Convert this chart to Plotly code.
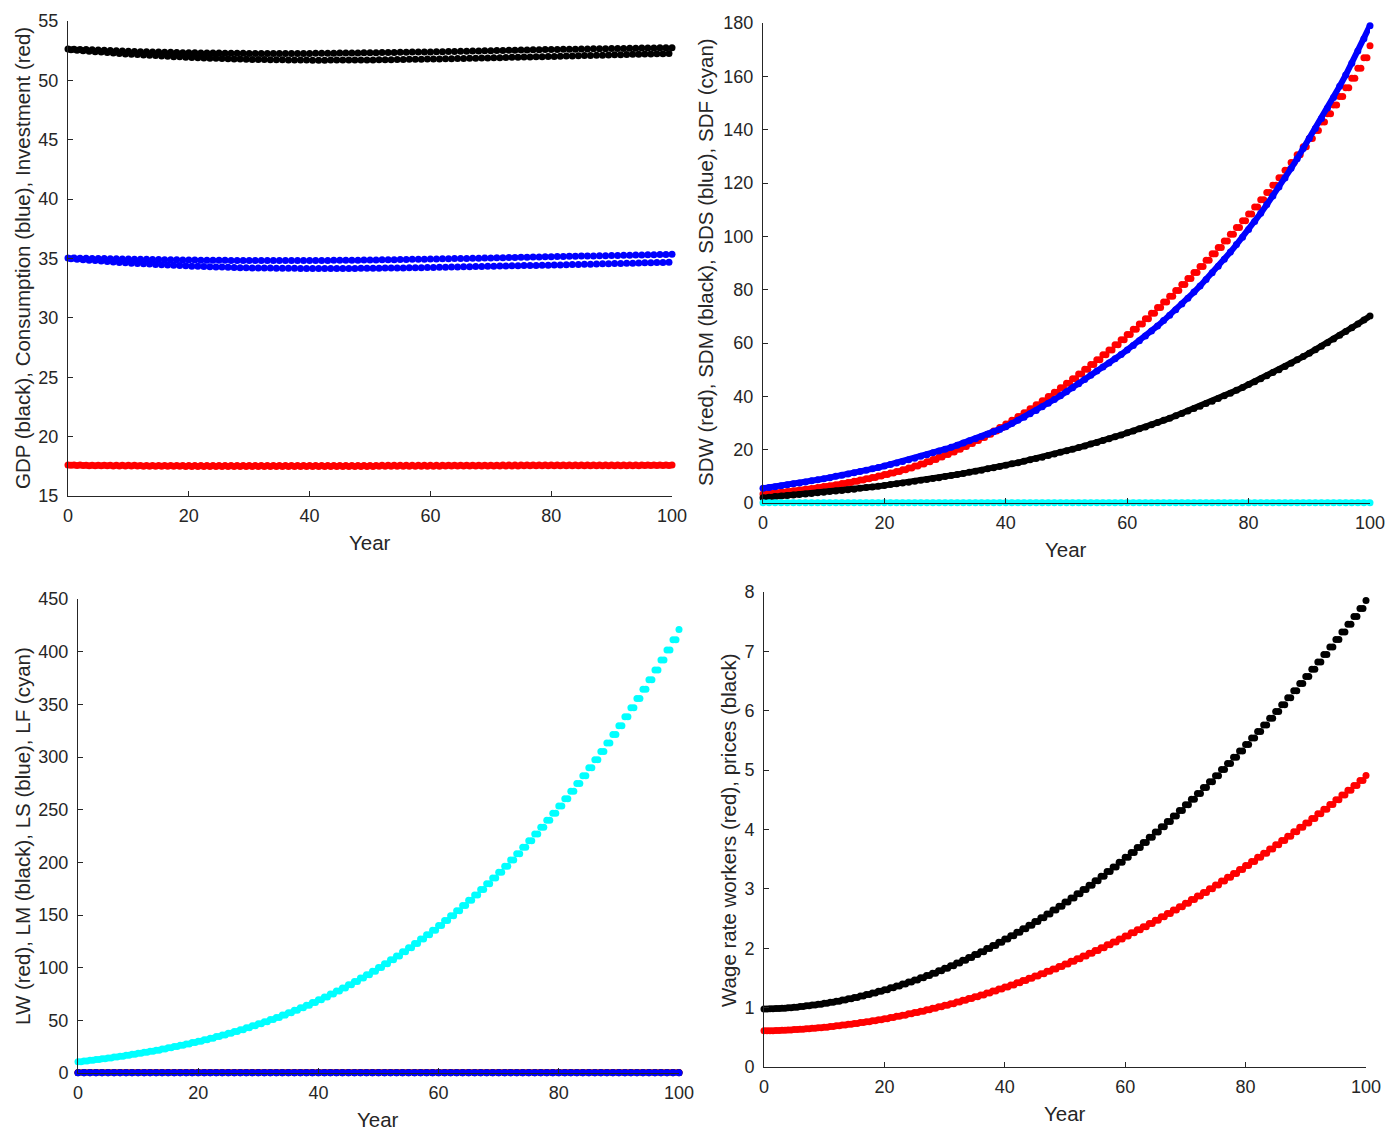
import plotly.graph_objects as go

W, H = 1391, 1131

# ---------------- data ----------------
years = list(range(0, 101))                 # annual observations
half_years = [y + 0.5 for y in range(0, 100)]  # mid-year observations

# Panel 1: GDP (black), Consumption (blue), Investment (red)
gdp_year = [52.65, 52.63, 52.61, 52.59, 52.57, 52.55, 52.53, 52.51, 52.49, 52.47,
            52.45, 52.44, 52.42, 52.41, 52.40, 52.39, 52.37, 52.36, 52.35, 52.33,
            52.32, 52.32, 52.31, 52.31, 52.30, 52.30, 52.29, 52.29, 52.28, 52.28,
            52.27, 52.27, 52.27, 52.27, 52.27, 52.27, 52.27, 52.27, 52.27, 52.27,
            52.27, 52.28, 52.28, 52.29, 52.29, 52.30, 52.30, 52.31, 52.31, 52.32,
            52.32, 52.33, 52.34, 52.34, 52.35, 52.36, 52.37, 52.38, 52.38, 52.39,
            52.40, 52.41, 52.42, 52.43, 52.44, 52.45, 52.46, 52.47, 52.48, 52.49,
            52.50, 52.51, 52.52, 52.53, 52.54, 52.55, 52.56, 52.57, 52.58, 52.59,
            52.60, 52.61, 52.62, 52.62, 52.63, 52.64, 52.65, 52.66, 52.66, 52.67,
            52.68, 52.69, 52.69, 52.70, 52.71, 52.72, 52.72, 52.73, 52.74, 52.74,
            52.75]
gdp_mid = [52.58, 52.54, 52.50, 52.46, 52.42, 52.38, 52.34, 52.30, 52.26, 52.23,
           52.20, 52.17, 52.14, 52.12, 52.09, 52.06, 52.03, 52.00, 51.98, 51.95,
           51.92, 51.90, 51.89, 51.87, 51.86, 51.84, 51.82, 51.81, 51.79, 51.78,
           51.76, 51.75, 51.75, 51.74, 51.74, 51.73, 51.72, 51.72, 51.71, 51.71,
           51.70, 51.70, 51.70, 51.71, 51.71, 51.71, 51.71, 51.71, 51.72, 51.72,
           51.72, 51.73, 51.74, 51.74, 51.75, 51.76, 51.77, 51.78, 51.78, 51.79,
           51.80, 51.81, 51.82, 51.83, 51.84, 51.85, 51.86, 51.87, 51.88, 51.89,
           51.90, 51.91, 51.92, 51.94, 51.95, 51.96, 51.97, 51.98, 52.00, 52.01,
           52.02, 52.03, 52.05, 52.06, 52.07, 52.09, 52.10, 52.11, 52.12, 52.14,
           52.15, 52.16, 52.18, 52.19, 52.20, 52.22, 52.23, 52.24, 52.25, 52.27]
cons_year = [35.05, 35.04, 35.03, 35.02, 35.01, 35.00, 34.99, 34.98, 34.97, 34.96,
             34.95, 34.94, 34.93, 34.93, 34.92, 34.91, 34.90, 34.89, 34.89, 34.88,
             34.87, 34.87, 34.86, 34.86, 34.85, 34.85, 34.85, 34.84, 34.84, 34.83,
             34.83, 34.83, 34.83, 34.83, 34.83, 34.83, 34.83, 34.83, 34.83, 34.83,
             34.83, 34.83, 34.84, 34.84, 34.85, 34.85, 34.85, 34.86, 34.86, 34.87,
             34.87, 34.88, 34.89, 34.89, 34.90, 34.91, 34.92, 34.93, 34.93, 34.94,
             34.95, 34.96, 34.97, 34.98, 34.99, 35.00, 35.01, 35.02, 35.03, 35.04,
             35.05, 35.06, 35.07, 35.08, 35.09, 35.10, 35.11, 35.12, 35.13, 35.14,
             35.15, 35.16, 35.17, 35.18, 35.19, 35.20, 35.21, 35.22, 35.23, 35.24,
             35.25, 35.26, 35.27, 35.28, 35.29, 35.30, 35.31, 35.32, 35.33, 35.34,
             35.35]
cons_mid = [34.98, 34.94, 34.90, 34.86, 34.83, 34.79, 34.75, 34.71, 34.67, 34.64,
            34.60, 34.58, 34.55, 34.53, 34.50, 34.48, 34.45, 34.43, 34.40, 34.38,
            34.35, 34.34, 34.32, 34.31, 34.29, 34.28, 34.26, 34.25, 34.23, 34.22,
            34.20, 34.20, 34.19, 34.19, 34.18, 34.18, 34.17, 34.17, 34.16, 34.16,
            34.15, 34.15, 34.15, 34.16, 34.16, 34.16, 34.16, 34.16, 34.17, 34.17,
            34.17, 34.18, 34.19, 34.19, 34.20, 34.21, 34.22, 34.23, 34.23, 34.24,
            34.25, 34.26, 34.27, 34.28, 34.29, 34.30, 34.31, 34.32, 34.33, 34.34,
            34.35, 34.36, 34.37, 34.38, 34.39, 34.40, 34.41, 34.42, 34.43, 34.44,
            34.45, 34.46, 34.47, 34.49, 34.50, 34.51, 34.52, 34.53, 34.55, 34.56,
            34.57, 34.58, 34.60, 34.61, 34.62, 34.64, 34.65, 34.66, 34.67, 34.69]
inv_year = [17.60, 17.60, 17.60, 17.59, 17.59, 17.59, 17.59, 17.58, 17.58, 17.58,
            17.58, 17.58, 17.57, 17.57, 17.57, 17.57, 17.57, 17.57, 17.56, 17.56,
            17.56, 17.56, 17.56, 17.56, 17.56, 17.56, 17.56, 17.56, 17.56, 17.56,
            17.56, 17.56, 17.56, 17.56, 17.56, 17.56, 17.56, 17.56, 17.56, 17.56,
            17.56, 17.56, 17.56, 17.56, 17.57, 17.57, 17.57, 17.57, 17.57, 17.57,
            17.57, 17.57, 17.58, 17.58, 17.58, 17.58, 17.58, 17.58, 17.58, 17.58,
            17.59, 17.59, 17.59, 17.59, 17.59, 17.59, 17.59, 17.59, 17.59, 17.59,
            17.59, 17.59, 17.60, 17.60, 17.60, 17.60, 17.60, 17.60, 17.60, 17.60,
            17.61, 17.61, 17.61, 17.61, 17.61, 17.61, 17.61, 17.61, 17.61, 17.61,
            17.61, 17.61, 17.61, 17.62, 17.62, 17.62, 17.62, 17.62, 17.62, 17.62,
            17.62]
inv_mid = [17.58, 17.57, 17.56, 17.55, 17.55, 17.54, 17.54, 17.53, 17.53, 17.52,
           17.52, 17.52, 17.51, 17.51, 17.51, 17.50, 17.50, 17.50, 17.50, 17.49,
           17.49, 17.49, 17.49, 17.49, 17.49, 17.49, 17.49, 17.49, 17.49, 17.49,
           17.49, 17.49, 17.48, 17.48, 17.48, 17.48, 17.48, 17.48, 17.48, 17.48,
           17.48, 17.48, 17.48, 17.48, 17.49, 17.49, 17.49, 17.49, 17.49, 17.49,
           17.49, 17.50, 17.50, 17.50, 17.50, 17.50, 17.50, 17.51, 17.51, 17.51,
           17.51, 17.51, 17.52, 17.52, 17.52, 17.52, 17.52, 17.52, 17.53, 17.53,
           17.53, 17.53, 17.53, 17.53, 17.53, 17.54, 17.54, 17.54, 17.54, 17.54,
           17.54, 17.54, 17.54, 17.54, 17.55, 17.55, 17.55, 17.55, 17.55, 17.55,
           17.55, 17.55, 17.55, 17.55, 17.55, 17.56, 17.56, 17.56, 17.56, 17.56]

# Panel 2: SDW (red), SDM (black), SDS (blue), SDF (cyan)
sdw = [3.40, 3.61, 3.83, 4.07, 4.32, 4.59, 4.87, 5.17, 5.48, 5.81,
       6.15, 6.51, 6.89, 7.29, 7.71, 8.15, 8.61, 9.09, 9.59, 10.11,
       10.65, 11.22, 11.83, 12.48, 13.17, 13.90, 14.67, 15.48, 16.33, 17.22,
       18.15, 19.12, 20.13, 21.18, 22.27, 23.40, 24.57, 25.78, 27.03, 28.32,
       29.65, 31.02, 32.42, 33.86, 35.33, 36.84, 38.38, 39.96, 41.57, 43.22,
       44.90, 46.61, 48.35, 50.11, 51.90, 53.71, 55.55, 57.41, 59.30, 61.21,
       63.15, 65.12, 67.11, 69.12, 71.19, 73.28, 75.39, 77.52, 79.71, 81.92,
       84.15, 86.42, 88.72, 91.06, 93.43, 95.84, 98.28, 100.76, 103.27, 105.82,
       108.40, 111.02, 113.69, 116.40, 119.16, 121.96, 124.81, 127.70, 130.64, 133.62,
       136.65, 139.72, 142.84, 146.00, 149.21, 152.46, 155.76, 159.30, 163.00, 167.00,
       171.50]
sdm = [2.0, 2.2, 2.4, 2.6, 2.8, 3.0, 3.2, 3.4, 3.6, 3.8,
       4.0, 4.3, 4.5, 4.7, 5.0, 5.2, 5.5, 5.8, 6.0, 6.3,
       6.6, 6.9, 7.2, 7.5, 7.8, 8.2, 8.5, 8.8, 9.2, 9.5,
       9.9, 10.3, 10.7, 11.1, 11.5, 11.9, 12.3, 12.8, 13.2, 13.7,
       14.2, 14.7, 15.1, 15.7, 16.2, 16.7, 17.2, 17.8, 18.4, 19.0,
       19.6, 20.2, 20.8, 21.4, 22.1, 22.7, 23.4, 24.1, 24.8, 25.5,
       26.3, 27.0, 27.8, 28.5, 29.3, 30.2, 31.0, 31.8, 32.7, 33.6,
       34.5, 35.4, 36.3, 37.3, 38.2, 39.2, 40.2, 41.2, 42.3, 43.3,
       44.4, 45.5, 46.6, 47.7, 48.9, 50.0, 51.2, 52.4, 53.7, 54.9,
       56.2, 57.5, 58.8, 60.1, 61.5, 62.9, 64.3, 65.7, 67.1, 68.6,
       70.1]
sds = [5.5, 5.8, 6.1, 6.5, 6.8, 7.2, 7.5, 7.9, 8.3, 8.7,
       9.1, 9.5, 10.0, 10.4, 10.9, 11.3, 11.8, 12.3, 12.8, 13.3,
       13.9, 14.4, 15.0, 15.6, 16.2, 16.8, 17.5, 18.1, 18.8, 19.5,
       20.2, 20.9, 21.7, 22.5, 23.3, 24.1, 24.9, 25.8, 26.7, 27.6,
       28.6, 29.8, 31.0, 32.2, 33.5, 34.7, 36.1, 37.4, 38.8, 40.2,
       41.7, 43.2, 44.7, 46.3, 47.9, 49.5, 51.0, 52.5, 54.1, 55.7,
       57.4, 59.1, 60.8, 62.6, 64.5, 66.4, 68.4, 70.4, 72.5, 74.6,
       76.8, 79.1, 81.4, 83.8, 86.3, 88.8, 91.4, 94.1, 96.9, 99.7,
       102.6, 105.6, 108.7, 111.9, 115.1, 118.5, 121.9, 125.5, 129.1, 132.9,
       136.7, 140.4, 144.2, 148.1, 152.1, 156.3, 160.5, 164.9, 169.5, 174.1,
       179.0]
sdf = [0.1, 0.1, 0.1, 0.1, 0.1, 0.1, 0.1, 0.1, 0.1, 0.1,
       0.1, 0.1, 0.1, 0.1, 0.1, 0.1, 0.1, 0.1, 0.1, 0.1,
       0.1, 0.1, 0.1, 0.1, 0.1, 0.1, 0.1, 0.1, 0.1, 0.1,
       0.1, 0.1, 0.1, 0.1, 0.1, 0.1, 0.1, 0.1, 0.1, 0.1,
       0.1, 0.1, 0.1, 0.1, 0.1, 0.1, 0.1, 0.1, 0.1, 0.1,
       0.1, 0.1, 0.1, 0.1, 0.1, 0.1, 0.1, 0.1, 0.1, 0.1,
       0.1, 0.1, 0.1, 0.1, 0.1, 0.1, 0.1, 0.1, 0.1, 0.1,
       0.1, 0.1, 0.1, 0.1, 0.1, 0.1, 0.1, 0.1, 0.1, 0.1,
       0.1, 0.1, 0.1, 0.1, 0.1, 0.1, 0.1, 0.1, 0.1, 0.1,
       0.1, 0.1, 0.1, 0.1, 0.1, 0.1, 0.1, 0.1, 0.1, 0.1,
       0.1]

# Panel 3: LW (red), LM (black), LS (blue), LF (cyan)
lw = [0.4, 0.4, 0.4, 0.4, 0.4, 0.4, 0.4, 0.4, 0.4, 0.4,
      0.4, 0.4, 0.4, 0.4, 0.4, 0.4, 0.4, 0.4, 0.4, 0.4,
      0.4, 0.4, 0.4, 0.4, 0.4, 0.4, 0.4, 0.4, 0.4, 0.4,
      0.4, 0.4, 0.4, 0.4, 0.4, 0.4, 0.4, 0.4, 0.4, 0.4,
      0.4, 0.4, 0.4, 0.4, 0.4, 0.4, 0.4, 0.4, 0.4, 0.4,
      0.4, 0.4, 0.4, 0.4, 0.4, 0.4, 0.4, 0.4, 0.4, 0.4,
      0.4, 0.4, 0.4, 0.4, 0.4, 0.4, 0.4, 0.4, 0.4, 0.4,
      0.4, 0.4, 0.4, 0.4, 0.4, 0.4, 0.4, 0.4, 0.4, 0.4,
      0.4, 0.4, 0.4, 0.4, 0.4, 0.4, 0.4, 0.4, 0.4, 0.4,
      0.4, 0.4, 0.4, 0.4, 0.4, 0.4, 0.4, 0.4, 0.4, 0.4,
      0.4]
lm = [0.2, 0.2, 0.2, 0.2, 0.2, 0.2, 0.2, 0.2, 0.2, 0.2,
      0.2, 0.2, 0.2, 0.2, 0.2, 0.2, 0.2, 0.2, 0.2, 0.2,
      0.2, 0.2, 0.2, 0.2, 0.2, 0.2, 0.2, 0.2, 0.2, 0.2,
      0.2, 0.2, 0.2, 0.2, 0.2, 0.2, 0.2, 0.2, 0.2, 0.2,
      0.2, 0.2, 0.2, 0.2, 0.2, 0.2, 0.2, 0.2, 0.2, 0.2,
      0.2, 0.2, 0.2, 0.2, 0.2, 0.2, 0.2, 0.2, 0.2, 0.2,
      0.2, 0.2, 0.2, 0.2, 0.2, 0.2, 0.2, 0.2, 0.2, 0.2,
      0.2, 0.2, 0.2, 0.2, 0.2, 0.2, 0.2, 0.2, 0.2, 0.2,
      0.2, 0.2, 0.2, 0.2, 0.2, 0.2, 0.2, 0.2, 0.2, 0.2,
      0.2, 0.2, 0.2, 0.2, 0.2, 0.2, 0.2, 0.2, 0.2, 0.2,
      0.2]
ls = [0.3, 0.3, 0.3, 0.3, 0.3, 0.3, 0.3, 0.3, 0.3, 0.3,
      0.3, 0.3, 0.3, 0.3, 0.3, 0.3, 0.3, 0.3, 0.3, 0.3,
      0.3, 0.3, 0.3, 0.3, 0.3, 0.3, 0.3, 0.3, 0.3, 0.3,
      0.3, 0.3, 0.3, 0.3, 0.3, 0.3, 0.3, 0.3, 0.3, 0.3,
      0.3, 0.3, 0.3, 0.3, 0.3, 0.3, 0.3, 0.3, 0.3, 0.3,
      0.3, 0.3, 0.3, 0.3, 0.3, 0.3, 0.3, 0.3, 0.3, 0.3,
      0.3, 0.3, 0.3, 0.3, 0.3, 0.3, 0.3, 0.3, 0.3, 0.3,
      0.3, 0.3, 0.3, 0.3, 0.3, 0.3, 0.3, 0.3, 0.3, 0.3,
      0.3, 0.3, 0.3, 0.3, 0.3, 0.3, 0.3, 0.3, 0.3, 0.3,
      0.3, 0.3, 0.3, 0.3, 0.3, 0.3, 0.3, 0.3, 0.3, 0.3,
      0.3]
lf = [10.7, 11.4, 12.1, 12.8, 13.6, 14.3, 15.2, 16.0, 16.9, 17.8,
      18.7, 19.7, 20.7, 21.7, 22.8, 23.9, 25.1, 26.3, 27.5, 28.9,
      30.2, 31.6, 33.1, 34.6, 36.1, 37.7, 39.4, 41.1, 42.9, 44.8,
      46.7, 48.6, 50.7, 52.8, 55.0, 57.2, 59.5, 61.9, 64.4, 66.9,
      69.5, 72.2, 75.0, 77.8, 80.8, 83.8, 86.9, 90.1, 93.3, 96.7,
      100.2, 103.7, 107.4, 111.1, 115.0, 118.9, 122.9, 127.1, 131.3, 135.6,
      140.1, 144.7, 149.3, 154.1, 159.0, 164.0, 169.1, 174.3, 179.7, 185.1,
      190.7, 196.4, 202.2, 208.2, 214.3, 220.5, 226.8, 233.3, 239.9, 246.6,
      253.4, 260.4, 267.6, 274.8, 282.2, 289.8, 297.5, 305.3, 313.3, 321.4,
      329.7, 338.2, 346.7, 355.5, 364.3, 373.4, 382.6, 392.0, 401.5, 411.2,
      421.0]

# Panel 4: Wage rate workers (red), prices (black)
wage = [0.609, 0.612, 0.615, 0.619, 0.624, 0.630, 0.636, 0.644, 0.652, 0.661,
        0.671, 0.682, 0.693, 0.706, 0.719, 0.733, 0.748, 0.763, 0.779, 0.796,
        0.814, 0.833, 0.853, 0.873, 0.895, 0.917, 0.940, 0.964, 0.988, 1.014,
        1.040, 1.067, 1.094, 1.123, 1.153, 1.183, 1.214, 1.246, 1.279, 1.313,
        1.347, 1.382, 1.418, 1.455, 1.493, 1.531, 1.571, 1.611, 1.652, 1.693,
        1.736, 1.779, 1.824, 1.869, 1.914, 1.961, 2.009, 2.057, 2.106, 2.156,
        2.207, 2.259, 2.311, 2.364, 2.418, 2.473, 2.529, 2.585, 2.643, 2.701,
        2.760, 2.819, 2.880, 2.941, 3.004, 3.067, 3.131, 3.196, 3.261, 3.328,
        3.394, 3.463, 3.531, 3.601, 3.671, 3.743, 3.814, 3.888, 3.961, 4.036,
        4.111, 4.187, 4.264, 4.342, 4.421, 4.500, 4.580, 4.661, 4.743, 4.826,
        4.909]
price = [0.975, 0.979, 0.984, 0.991, 0.999, 1.008, 1.018, 1.030, 1.043, 1.058,
         1.074, 1.091, 1.109, 1.129, 1.150, 1.172, 1.196, 1.220, 1.247, 1.274,
         1.303, 1.333, 1.365, 1.397, 1.432, 1.467, 1.504, 1.542, 1.581, 1.622,
         1.664, 1.707, 1.751, 1.797, 1.844, 1.893, 1.943, 1.994, 2.046, 2.100,
         2.155, 2.211, 2.269, 2.328, 2.388, 2.450, 2.513, 2.577, 2.643, 2.709,
         2.778, 2.847, 2.918, 2.990, 3.063, 3.138, 3.214, 3.291, 3.370, 3.450,
         3.531, 3.614, 3.697, 3.783, 3.869, 3.957, 4.046, 4.136, 4.228, 4.321,
         4.416, 4.511, 4.608, 4.706, 4.806, 4.907, 5.009, 5.113, 5.217, 5.324,
         5.431, 5.540, 5.650, 5.761, 5.874, 5.988, 6.103, 6.220, 6.338, 6.457,
         6.578, 6.699, 6.823, 6.947, 7.073, 7.200, 7.328, 7.458, 7.589, 7.721,
         7.855]

x_ticks = [0, 20, 40, 60, 80, 100]

# ---------------- helpers ----------------
BLACK, BLUE, RED, CYAN = "#000000", "#0000FF", "#FF0000", "#00FFFF"
AX = "#262626"
FONT = "Liberation Sans, Arial, Helvetica, sans-serif"
MS = 7
TICK_SIZE = 18
TITLE_SIZE = 20.5


def stairs(vals):
    """annual value held over the year: plotted at t and t+0.5"""
    xs, ys = [], []
    for k, v in zip(years, vals):
        xs.append(k)
        ys.append(v)
        if k < 100:
            xs.append(k + 0.5)
            ys.append(v)
    return xs, ys


def dots(x, y, color, axis, size=MS, line=False):
    return go.Scatter(
        x=x, y=y, mode="lines+markers" if line else "markers",
        marker=dict(color=color, size=size, line=dict(width=0)),
        line=dict(color=color, width=6) if line else None,
        xaxis="x" + axis, yaxis="y" + axis, cliponaxis=False,
        showlegend=False, hoverinfo="skip")


fig = go.Figure()

# panel 1
fig.add_trace(dots(years, gdp_year, BLACK, ""))
fig.add_trace(dots(half_years, gdp_mid, BLACK, ""))
fig.add_trace(dots(years, cons_year, BLUE, ""))
fig.add_trace(dots(half_years, cons_mid, BLUE, ""))
fig.add_trace(dots(years, inv_year, RED, ""))
fig.add_trace(dots(half_years, inv_mid, RED, ""))

# panel 2
xs, ys = stairs(sdw)
fig.add_trace(dots(xs, ys, RED, "2"))
fig.add_trace(dots(years, sdm, BLACK, "2", line=True))
fig.add_trace(dots(years, sds, BLUE, "2", line=True))
fig.add_trace(dots(years, sdf, CYAN, "2", line=True))

# panel 3
fig.add_trace(dots(years, lw, RED, "3", line=True))
fig.add_trace(dots(years, lm, BLACK, "3", line=True))
fig.add_trace(dots(years, ls, BLUE, "3", line=True))
xs, ys = stairs(lf)
fig.add_trace(dots(xs, ys, CYAN, "3"))

# panel 4
xs, ys = stairs(wage)
fig.add_trace(dots(xs, ys, RED, "4"))
xs, ys = stairs(price)
fig.add_trace(dots(xs, ys, BLACK, "4"))


def px(x):
    return x / W


def py(y):
    return 1 - y / H


def xax(x0, x1, anchor):
    return dict(domain=[px(x0), px(x1)], range=[0, 100], anchor=anchor,
                tickvals=x_ticks, showgrid=False, zeroline=False,
                automargin=False,
                showline=True, linecolor=AX, linewidth=1, ticks="inside",
                ticklen=5, tickcolor=AX, ticklabelstandoff=3,
                tickfont=dict(family=FONT, size=TICK_SIZE, color=AX))


def yax(y0, y1, rng, dtick, anchor):
    return dict(domain=[py(y1), py(y0)], range=rng, anchor=anchor,
                dtick=dtick, tick0=0, showgrid=False, zeroline=False,
                automargin=False,
                showline=True, linecolor=AX, linewidth=1, ticks="inside",
                ticklen=5, tickcolor=AX, ticklabelstandoff=5,
                tickfont=dict(family=FONT, size=TICK_SIZE, color=AX))


layout = dict(
    template="none",
    width=W, height=H, margin=dict(l=0, r=0, t=0, b=0, pad=0),
    paper_bgcolor="white", plot_bgcolor="white", showlegend=False,
    xaxis=xax(68, 672, "y"), yaxis=yax(21, 496, [15, 55], 5, "x"),
    xaxis2=xax(763, 1370, "y2"), yaxis2=yax(23, 503, [0, 180], 20, "x2"),
    xaxis3=xax(78, 679, "y3"), yaxis3=yax(599, 1073, [0, 450], 50, "x3"),
    xaxis4=xax(764, 1366, "y4"), yaxis4=yax(592, 1067, [0, 8], 1, "x4"),
)
fig.update_layout(**layout)

titles = [
    ("GDP (black), Consumption (blue), Investment (red)", 22, 258, -90),
    ("SDW (red), SDM (black), SDS (blue), SDF (cyan)", 706, 262, -90),
    ("LW (red), LM (black), LS (blue), LF (cyan)", 22, 836, -90),
    ("Wage rate workers (red), prices (black)", 728, 830, -90),
    ("Year", 370, 542, 0),
    ("Year", 1066, 549, 0),
    ("Year", 378, 1119, 0),
    ("Year", 1065, 1113, 0),
]
for text, x, y, ang in titles:
    fig.add_annotation(text=text, x=px(x), y=py(y), xref="paper", yref="paper",
                       xanchor="center", yanchor="middle", showarrow=False,
                       textangle=ang,
                       font=dict(family=FONT, size=TITLE_SIZE, color=AX))

fig.write_html("out.html",
               config={"displayModeBar": False},
               post_script="document.body.style.margin='0';"
                           "document.body.style.overflow='hidden';")
